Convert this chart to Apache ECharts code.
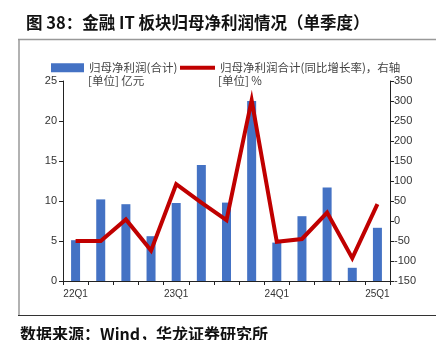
<!DOCTYPE html>
<html>
<head>
<meta charset="utf-8">
<script src="https://cdn.jsdelivr.net/npm/echarts@6/dist/echarts.min.js"></script>
<style>
  html, body { margin: 0; padding: 0; background: #fff; }
  #chart { width: 436px; height: 340px; }
</style>
</head>
<body>
<div id="chart"></div>
<script>
// Quarterly categories
const quarters = ['22Q1','22Q2','22Q3','22Q4','23Q1','23Q2','23Q3','23Q4','24Q1','24Q2','24Q3','24Q4','25Q1'];
// Net profit attributable to parent (100 million CNY)
const netProfit = [5.1, 10.2, 9.6, 5.6, 9.75, 14.5, 9.8, 22.5, 4.8, 8.1, 11.7, 1.65, 6.65];
// Year-on-year growth (%)
const yoyGrowth = [-50, -50, 4, -74, 92, 46, 2, 302, -52, -45, 21, -93, 42];
// Axis ranges
const leftAxis = { min: 0, max: 25, interval: 5 };
const rightAxis = { min: -150, max: 350, interval: 50 };

const barName = '归母净利润(合计)';
const lineName = '归母净利润合计(同比增长率)，右轴';
const cjkFont = '"Noto Sans CJK SC", sans-serif';
const axisFont = '"Liberation Sans", Arial, sans-serif';

const chart = echarts.init(document.getElementById('chart'), null, { renderer: 'canvas' });
chart.setOption({
  animation: false,
  backgroundColor: '#fff',
  title: {
    text: '图 38：金融 IT 板块归母净利润情况（单季度）',
    left: 21, top: 9,
    textStyle: { fontFamily: cjkFont, fontSize: 16.5, fontWeight: 'bold', color: '#111' }
  },
  legend: [
    {
      data: [{ name: barName, icon: 'rect' }],
      left: 51, top: 62, itemWidth: 33, itemHeight: 9, padding: 0,
      textStyle: { fontFamily: cjkFont, fontSize: 11.5, color: '#444' }
    },
    {
      data: [{ name: lineName, icon: 'rect' }],
      left: 180, top: 62, itemWidth: 35, itemHeight: 4, padding: 0,
      textStyle: { fontFamily: cjkFont, fontSize: 11.5, color: '#444' }
    }
  ],
  grid: { left: 63, right: 46, top: 81, bottom: 59 },
  xAxis: {
    type: 'category',
    data: quarters,
    boundaryGap: true,
    axisLine: { lineStyle: { color: '#222', width: 1 } },
    axisTick: { show: true, interval: 0, length: 4, lineStyle: { color: '#222' } },
    axisLabel: {
      interval: 3, margin: 8,
      fontFamily: axisFont, fontSize: 10, color: '#333'
    }
  },
  yAxis: [
    {
      type: 'value', position: 'left',
      min: leftAxis.min, max: leftAxis.max, interval: leftAxis.interval,
      splitLine: { show: false },
      axisLine: { show: true, lineStyle: { color: '#222' } },
      axisTick: { show: true, length: 4, lineStyle: { color: '#222' } },
      axisLabel: { fontFamily: axisFont, fontSize: 11, color: '#333', margin: 6 }
    },
    {
      type: 'value', position: 'right',
      min: rightAxis.min, max: rightAxis.max, interval: rightAxis.interval,
      splitLine: { show: false },
      axisLine: { show: true, lineStyle: { color: '#222' } },
      axisTick: { show: true, length: 4, lineStyle: { color: '#222' } },
      axisLabel: { fontFamily: axisFont, fontSize: 11, color: '#333', margin: 4 }
    }
  ],
  series: [
    {
      name: barName,
      type: 'bar',
      yAxisIndex: 0,
      data: netProfit,
      barWidth: 9,
      itemStyle: { color: '#4472C4' }
    },
    {
      name: lineName,
      type: 'line',
      yAxisIndex: 1,
      data: yoyGrowth,
      symbol: 'none',
      lineStyle: { color: '#C00000', width: 4, join: 'miter' },
      itemStyle: { color: '#C00000' }
    }
  ],
  graphic: [
    // Frame rules around the chart block
    { type: 'line', shape: { x1: 18, y1: 39.5, x2: 436, y2: 39.5 }, style: { stroke: '#999', lineWidth: 1.5 } },
    { type: 'line', shape: { x1: 19, y1: 39, x2: 19, y2: 316 }, style: { stroke: '#999', lineWidth: 1.5 } },
    { type: 'line', shape: { x1: 18, y1: 315.5, x2: 436, y2: 315.5 }, style: { stroke: '#333', lineWidth: 1.2 } },
    // Unit notes under the legend entries
    { type: 'text', left: 88, top: 75, style: { text: '[单位] 亿元', font: '11.5px ' + cjkFont, fill: '#444' } },
    { type: 'text', left: 218, top: 75, style: { text: '[单位] %', font: '11.5px ' + cjkFont, fill: '#444' } },
    // Source note
    { type: 'text', left: 20, top: 326, style: { text: '数据来源：Wind，华龙证券研究所', font: 'bold 16px ' + cjkFont, fill: '#111' } }
  ]
});
</script>
</body>
</html>
